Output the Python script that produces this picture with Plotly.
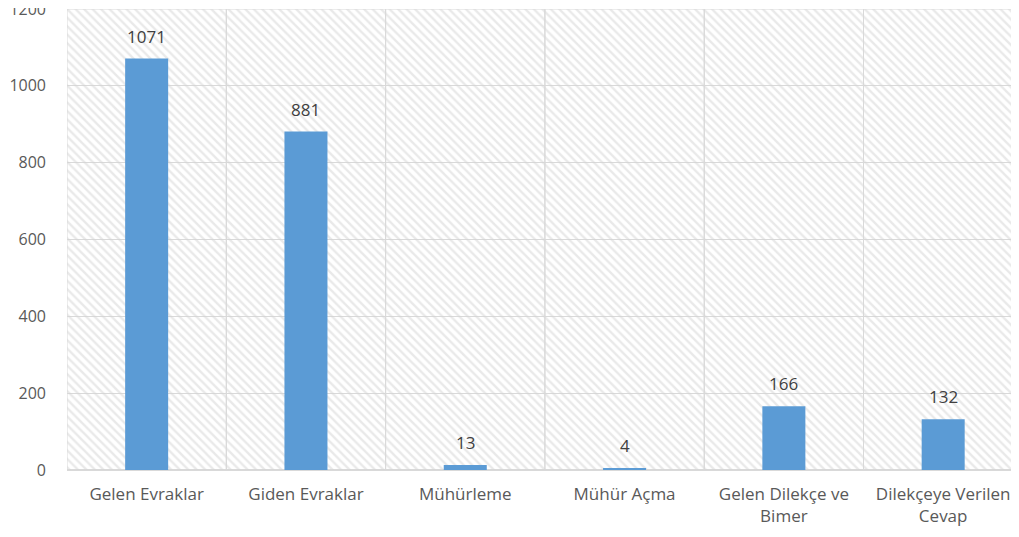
import plotly.graph_objects as go

categories = ["Gelen Evraklar", "Giden Evraklar", "Mühürleme", "Mühür Açma",
              "Gelen Dilekçe ve<br>Bimer", "Dilekçeye Verilen<br>Cevap"]
values = [1071, 881, 13, 4, 166, 132]
y_ticks = [0, 200, 400, 600, 800, 1000, 1200]
y_max = 1200

fig = go.Figure()

# hatched category panels (background)
fig.add_trace(go.Bar(
    x=categories, y=[y_max] * len(categories), width=1,
    marker=dict(color="rgba(0,0,0,0)",
                line=dict(color="#d9d9d9", width=1),
                pattern=dict(shape="\\", fgcolor="#d4d4d4", bgcolor="rgba(0,0,0,0)",
                             size=6, solidity=0.4, fillmode="overlay")),
    hoverinfo="skip", showlegend=False))

fig.add_trace(go.Bar(
    x=categories, y=values, width=0.27,
    marker=dict(color="#5B9BD5", line=dict(width=0)),
    showlegend=False))

for c, v in zip(categories, values):
    fig.add_annotation(x=c, y=v, text=str(v), showarrow=False, yanchor="bottom",
                       yshift=9, font=dict(family="Open Sans", size=17, color="#404040"))

# page body has an 8px default margin; compensate so the plot lands where the reference has it
fig.update_layout(
    width=1011, height=529,
    margin=dict(l=59, r=0, t=1, b=67, autoexpand=False),
    paper_bgcolor="white", plot_bgcolor="white",
    barmode="overlay",
    font=dict(family="Open Sans", size=16, color="#595959"),
    xaxis=dict(range=[-0.5, 5.476], showgrid=False, showline=False, zeroline=False,
               automargin=False,
               tickfont=dict(size=17, color="#595959"), ticks="", ticklabelstandoff=12),
    yaxis=dict(range=[0, y_max], tickvals=y_ticks, showgrid=True, gridcolor="#d9d9d9",
               gridwidth=1, zeroline=True, zerolinecolor="#d9d9d9", showline=False,
               automargin=False, ticklabeloverflow="allow",
               ticklabelstandoff=20, tickfont=dict(size=16, color="#595959")),
)

fig.write_html("out.html")
